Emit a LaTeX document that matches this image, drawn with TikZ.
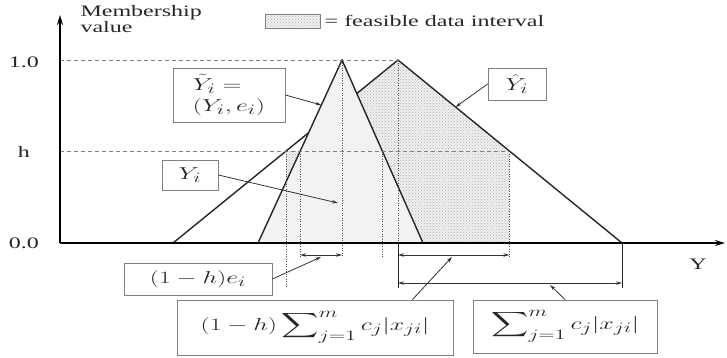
\documentclass[tikz,border=0pt]{standalone}
\usepackage{fontspec}
\setmainfont{Liberation Serif}
\usepackage{amsmath}
\usepackage{graphicx}
\usetikzlibrary{arrows.meta,calc,patterns,positioning}

\newcommand{\xstr}[1]{\scalebox{1.5}[1]{#1}}

\begin{document}
\begin{tikzpicture}[
  x=1pt, y=1pt,
  >={Stealth[length=6pt,width=3.5pt]},
  ax/.style   = {line width=2pt, -{Stealth[length=10pt,width=6pt]}},
  el/.style   = {line width=1.4pt, black!85},
  lvl/.style  = {gray, line width=0.8pt, dash pattern=on 4pt off 3pt},
  drop/.style = {black!70, line width=0.9pt, dash pattern=on 1pt off 1.5pt},
  dim/.style  = {<->, line width=0.8pt, black!80},
  cn/.style   = {->, line width=0.8pt, black!80},
  box/.style  = {draw=gray, line width=0.8pt, fill=white, inner sep=2pt},
  lbl/.style  = {font=\fontsize{16}{14}\selectfont, text=black!85},
  mlbl/.style = {font=\fontsize{19}{21}\selectfont, text=black!85},
  feas/.style = {preaction={fill=gray!12}, pattern=crosshatch dots, pattern color=gray!60},
]
\useasboundingbox (-60,-114) rectangle (667,243);

%% the two fuzzy numbers and the h-level
\coordinate (O) at (0,0);
\coordinate (A) at (113,0);  \coordinate (B) at (338,183); \coordinate (C) at (562,0);
\coordinate (D) at (198,0);  \coordinate (E) at (282,183); \coordinate (F) at (363,0);
\coordinate (wl) at ($(A)!0.5027!(B)$);
\coordinate (wr) at ($(C)!0.5027!(B)$);
\coordinate (nl) at ($(D)!0.5027!(E)$);
\coordinate (nr) at ($(F)!0.5027!(E)$);
\coordinate (X) at (intersection of A--B and E--F);
\coordinate (dA) at (0,-12);
\coordinate (dB) at (0,-40);
\coordinate (fs) at (0,-14);
\coordinate (fl) at (0,-45);

%% feasible data interval
\fill[feas] (wl |- O) -- (wl) -- (nl) -- (E) -- (X) -- (B) -- (wr) -- (wr |- O) -- cycle;
\draw[el] (A) -- (B) -- (C);
\fill[gray!10] (D) -- (E) -- (F) -- cycle;
\draw[el] (D) -- (E) -- (F);

%% levels and drops
\draw[lvl] (O |- B) -- (B);
\draw[lvl] (O |- wr) -- (wr);
\draw[drop] (wl) -- (wl |- fl);
\foreach \p in {nl,E,nr,wr}
  { \draw[drop] (\p) -- (\p |- fs); }
\draw[drop] (B) -- (B |- O);
\draw[el, line width=0.9pt] (B |- O) -- (B |- fl);
\draw[el, line width=0.9pt] (C) -- (C |- fl);

%% axes
\draw[ax] (O) -- (0,228);
\draw[ax] (O) -- (665,0);
\node[lbl] (lone)  at (-36,181) {\xstr{1.0}};
\node[lbl] (lh)    at (-36,91)  {\xstr{h}};
\node[lbl] (lzero) at (-36,0)   {\xstr{0.0}};
\node[lbl] (ly)    at (638,-21) {\xstr{Y}};
\node[lbl, align=left, anchor=north west] (ml) at (17,241)
  {\xstr{Membership}\\\xstr{value}};

%% legend
\node[draw=gray, feas, minimum width=55pt, minimum height=14pt, inner sep=0pt] (leg) at (232.5,222) {};
\node[lbl, right=1pt of leg] (legt) {\xstr{= feasible data interval}};

%% spreads
\draw[dim] (nl |- dA) -- (E |- dA);
\draw[dim] (B |- dA) -- (wr |- dA);
\draw[dim] (B |- dB) -- (C |- dB);

%% labels
\node[box, mlbl, minimum width=112pt, minimum height=54pt, align=left] (bt) at (169,148)
  {\xstr{$\tilde{Y}_i =$}\\\xstr{$(Y_i, e_i)$}};
\node[box, mlbl, minimum width=56pt, minimum height=30pt] (by) at (130,68) {\xstr{$Y_i$}};
\node[box, mlbl, minimum width=58pt, minimum height=32pt] (bh) at (457,159) {\xstr{$\hat{Y}_i$}};
\node[box, mlbl, minimum width=148pt, minimum height=32pt] (be) at (138,-36) {\xstr{$(1-h)e_i$}};
\node[box, mlbl, minimum width=276pt, minimum height=55pt] (bs) at (255,-84.5)
  {\xstr{$\displaystyle(1-h)\sum\nolimits_{j=1}^{m} c_j\lvert x_{ji}\rvert$}};
\node[box, mlbl, minimum width=184pt, minimum height=53pt] (bc) at (505,-83.5)
  {\xstr{$\displaystyle\sum\nolimits_{j=1}^{m} c_j\lvert x_{ji}\rvert$}};

\coordinate (pt) at ($(D)!0.754!(E)$);
\coordinate (py) at (278,40);
\coordinate (ph) at ($(B)!0.257!(C)$);
\coordinate (p1) at (261,-14);
\coordinate (p2) at (392,-14);
\coordinate (p3) at (490,-42);
\draw[cn] (bt.east) -- (pt);
\draw[cn] (by.east) -- (py);
\draw[cn] (bh.west) -- (ph);
\draw[cn] (be.east) -- (p1);
\draw[cn] ([xshift=-41pt]bs.north east) -- (p2);
\draw[cn] (bc.north) -- (p3);

\end{tikzpicture}
\end{document}
